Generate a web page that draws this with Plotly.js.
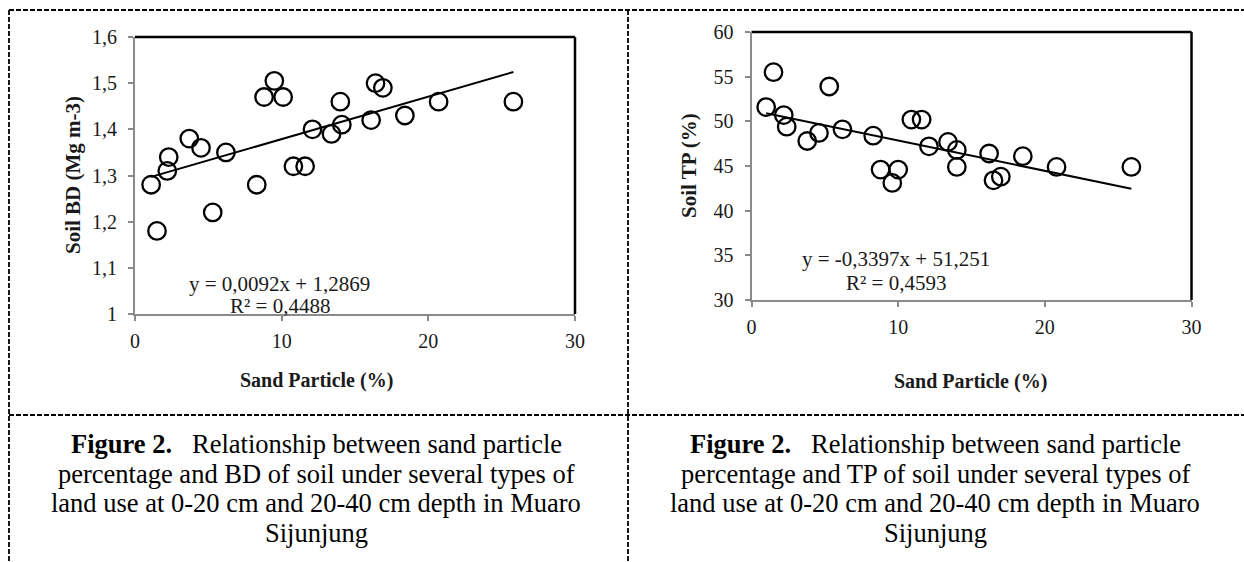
<!DOCTYPE html>
<html>
<head>
<meta charset="utf-8">
<script src="https://cdn.plot.ly/plotly-3.0.1.min.js"></script>
<style>
html,body{margin:0;padding:0;background:#fff;}
#chart{width:1244px;height:562px;}
</style>
</head>
<body>
<div id="chart"></div>
<script>
// ---- data ----
const sandBD = [1.1, 1.5, 2.2, 2.3, 3.7, 4.5, 5.3, 6.2, 8.3, 8.8, 9.5, 10.1, 10.8, 11.6, 12.1, 13.4, 14.0, 14.1, 16.1, 16.4, 16.9, 18.4, 20.7, 25.8];
const soilBD = [1.28, 1.18, 1.31, 1.34, 1.38, 1.36, 1.22, 1.35, 1.28, 1.47, 1.505, 1.47, 1.32, 1.32, 1.40, 1.39, 1.46, 1.41, 1.42, 1.50, 1.49, 1.43, 1.46, 1.46];
const sandTP = [1.0, 1.5, 2.2, 2.4, 3.8, 4.6, 5.3, 6.2, 8.3, 8.8, 9.6, 10.0, 10.9, 11.6, 12.1, 13.4, 14.0, 14.0, 16.2, 16.5, 17.0, 18.5, 20.8, 25.9];
const soilTP = [51.6, 55.5, 50.7, 49.4, 47.8, 48.7, 53.9, 49.1, 48.4, 44.6, 43.1, 44.6, 50.2, 50.2, 47.2, 47.7, 46.8, 44.9, 46.4, 43.4, 43.8, 46.1, 44.9, 44.9];
const trendBD = {slope: 0.0092, intercept: 1.2869, eq: "y = 0,0092x + 1,2869", r2: "R² = 0,4488"};
const trendTP = {slope: -0.3397, intercept: 51.251, eq: "y = -0,3397x + 51,251", r2: "R² = 0,4593"};
const xTitle = "Sand Particle (%)";
const yTitleBD = "Soil BD (Mg m-3)";
const yTitleTP = "Soil TP (%)";
const captionBD = ["<b>Figure 2.</b>&nbsp;&nbsp; Relationship between sand particle",
  "percentage and BD of soil under several types of",
  "land use at 0-20 cm and 20-40 cm depth in Muaro",
  "Sijunjung"];
const captionTP = ["<b>Figure 2.</b>&nbsp;&nbsp; Relationship between sand particle",
  "percentage and TP of soil under several types of",
  "land use at 0-20 cm and 20-40 cm depth in Muaro",
  "Sijunjung"];

// ---- geometry helpers (pixel -> paper) ----
const W = 1244, H = 562;
const px = x => x / W;
const py = y => 1 - y / H;
const FONT = "Liberation Serif, Times New Roman, serif";
const AXC = "#8a8a8a";
const TXT = "#1a1a1a";

function trendLine(xs, t, xa, ya) {
  const lo = Math.min(...xs), hi = Math.max(...xs);
  return {x: [lo, hi], y: [t.slope * lo + t.intercept, t.slope * hi + t.intercept],
    mode: "lines", line: {color: "#000", width: 2}, xaxis: xa, yaxis: ya, hoverinfo: "skip"};
}
function pts(xs, ys, xa, ya) {
  return {x: xs, y: ys, mode: "markers", xaxis: xa, yaxis: ya,
    marker: {symbol: "circle-open", size: 17.5, color: "#000", line: {width: 2.3, color: "#000"}}};
}
function note(text, x, y, size, extra) {
  return Object.assign({text: text, xref: "paper", yref: "paper", x: px(x), y: py(y),
    xanchor: "center", yanchor: "middle", showarrow: false,
    font: {family: FONT, size: size, color: TXT}}, extra || {});
}

const data = [
  pts(sandBD, soilBD, "x", "y"),
  trendLine(sandBD, trendBD, "x", "y"),
  pts(sandTP, soilTP, "x2", "y2"),
  trendLine(sandTP, trendTP, "x2", "y2")
];

const axBase = {
  showline: true, linecolor: AXC, linewidth: 2,
  ticks: "outside", ticklen: 5, tickwidth: 2, tickcolor: AXC,
  showgrid: false, zeroline: false, fixedrange: true,
  tickfont: {family: FONT, size: 20, color: TXT}
};

const dashed = {color: "#000", width: 1.8, dash: "5px,2px"};
const annotations = [
  note("<b>" + yTitleBD + "</b>", 73, 175, 21, {textangle: -90}),
  note("<b>" + yTitleTP + "</b>", 689, 166, 21, {textangle: -90}),
  note("<b>" + xTitle + "</b>", 316, 380, 20),
  note("<b>" + xTitle + "</b>", 970, 381, 20),
  note(trendBD.eq, 279, 284, 21),
  note(trendBD.r2, 280, 306, 21),
  note(trendTP.eq, 896, 259, 21),
  note(trendTP.r2, 896, 283, 21)
];
const capY = [444, 473.5, 503, 532.5];
const capFont = {family: FONT, size: 26.5, color: "#000"};
captionBD.forEach((t, i) => annotations.push(note(t, 316, capY[i], 26.5, {font: capFont})));
captionTP.forEach((t, i) => annotations.push(note(t, 935, capY[i], 26.5, {font: capFont})));

const layout = {
  width: W, height: H,
  margin: {l: 0, r: 0, t: 0, b: 0},
  paper_bgcolor: "#fff", plot_bgcolor: "#fff",
  showlegend: false,
  separators: ",.",
  xaxis: Object.assign({}, axBase, {domain: [px(135), px(575)], range: [0, 30], dtick: 10, tick0: 0, anchor: "y", ticklabelstandoff: 3}),
  yaxis: Object.assign({}, axBase, {domain: [py(314), py(37)], range: [1, 1.6], dtick: 0.1, tick0: 1, anchor: "x", ticklabelstandoff: 7}),
  xaxis2: Object.assign({}, axBase, {domain: [px(751.5), px(1191.5)], range: [0, 30], dtick: 10, tick0: 0, anchor: "y2", ticklabelstandoff: 3}),
  yaxis2: Object.assign({}, axBase, {domain: [py(300), py(32)], range: [30, 60], dtick: 5, tick0: 30, anchor: "x2", ticklabelstandoff: 7}),
  shapes: [
    {type: "line", xref: "x domain", yref: "y domain", x0: 0, x1: 1, y0: 1, y1: 1, line: {color: "#000", width: 2.5}, layer: "below"},
    {type: "line", xref: "x domain", yref: "y domain", x0: 1, x1: 1, y0: 0, y1: 1, line: {color: "#000", width: 2.5}, layer: "below"},
    {type: "line", xref: "x2 domain", yref: "y2 domain", x0: 0, x1: 1, y0: 1, y1: 1, line: {color: "#000", width: 2.5}, layer: "below"},
    {type: "line", xref: "x2 domain", yref: "y2 domain", x0: 1, x1: 1, y0: 0, y1: 1, line: {color: "#000", width: 2.5}, layer: "below"},
    {type: "line", xref: "paper", yref: "paper", x0: px(9), x1: 1, y0: py(10), y1: py(10), line: dashed},
    {type: "line", xref: "paper", yref: "paper", x0: px(9), x1: px(9), y0: py(10), y1: 0, line: dashed},
    {type: "line", xref: "paper", yref: "paper", x0: px(628), x1: px(628), y0: py(10), y1: 0, line: dashed},
    {type: "line", xref: "paper", yref: "paper", x0: px(9), x1: 1, y0: py(415), y1: py(415), line: dashed}
  ],
  annotations: annotations
};

Plotly.newPlot("chart", data, layout, {displayModeBar: false, staticPlot: true});
</script>
</body>
</html>
